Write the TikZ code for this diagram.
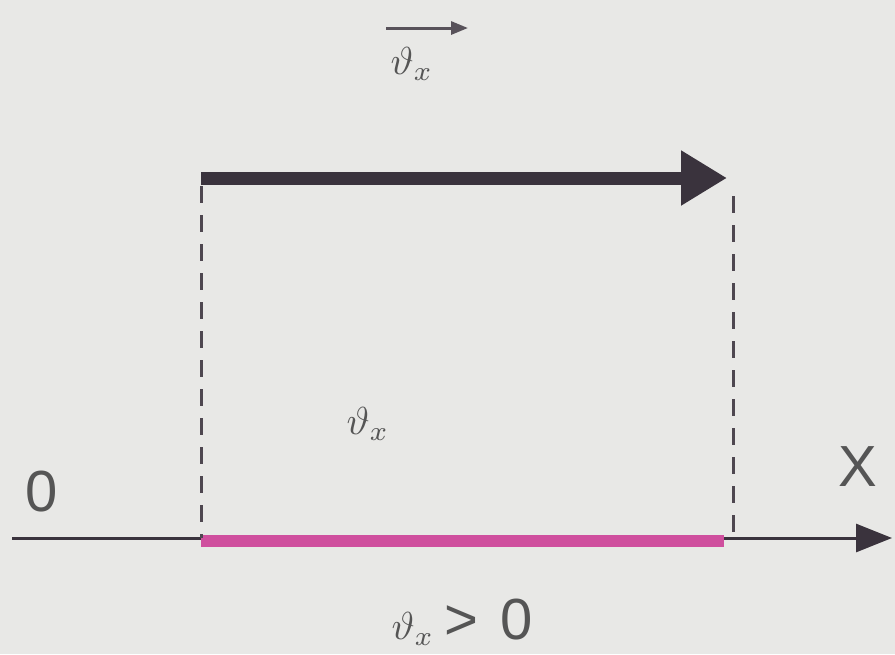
\documentclass[tikz,border=0pt]{standalone}
\usepackage{graphicx}
\usepackage{fontspec}
\setsansfont{Liberation Sans}
\usetikzlibrary{arrows.meta}
\definecolor{bg}{HTML}{E8E8E6}
\definecolor{ink}{HTML}{3A333D}
\definecolor{txt}{HTML}{555555}
\definecolor{pinkseg}{HTML}{CF4F9E}
\newcommand{\bigvt}{\scalebox{3.9}{$\vartheta_x$}}
\begin{document}
\begin{tikzpicture}[x=1pt,y=-1pt,
  lbl/.style={text=txt,inner sep=0pt},
  big/.style={font=\sffamily\fontsize{58}{60}\selectfont},
  dashline/.style={draw=ink!90,line width=3pt,dash pattern=on 17pt off 12pt},
  axisline/.style={draw=ink,line width=3pt},
  vecline/.style={draw=ink,line width=13pt},
  pinkline/.style={draw=pinkseg,line width=12pt},
  smallvec/.style={draw=ink!85,line width=3pt,-{Triangle[length=17pt,width=13pt]}}]
\fill[bg] (0,0) rectangle (895,654);
\useasboundingbox (0,0) rectangle (895,654);
% coordinates
\coordinate (axL) at (12,538);
\coordinate (axR) at (892,538);
\coordinate (A) at (201,541);
\coordinate (B) at (724,541);
\coordinate (Atop) at (201,178);
\coordinate (Btip) at (727,178);
\coordinate (Ld) at (201,186);
\coordinate (Lb) at (201,538);
\coordinate (Rd) at (733,196);
\coordinate (Rb) at (733,538);
\coordinate (vs) at (386,28);
\coordinate (ve) at (468,28);
% axis
\draw[axisline,-{Triangle[length=36pt,width=28pt]}] (axL) -- (axR);
% pink segment
\draw[pinkline] (A) -- (B);
% dashed verticals
\draw[dashline] (Ld) -- (Lb);
\draw[dashline] (Rd) -- (Rb);
% velocity vector
\draw[vecline,-{Triangle[length=46pt,width=52pt]}] (Atop) -- (Btip);
% labels
\node[lbl,big] (zero) at (42,492) {0};
\node[lbl,big] (X) at (858,467) {X};
\node[lbl] (mid) at (368,424) {\bigvt};
\node[lbl] (top) at (412,64) {\bigvt};
\draw[smallvec] (vs) -- (ve);
\node[lbl] (bot) at (462,622) {\bigvt\hspace{10pt}\sffamily\fontsize{58}{60}\selectfont>\hspace{22pt}0};
\end{tikzpicture}
\end{document}
